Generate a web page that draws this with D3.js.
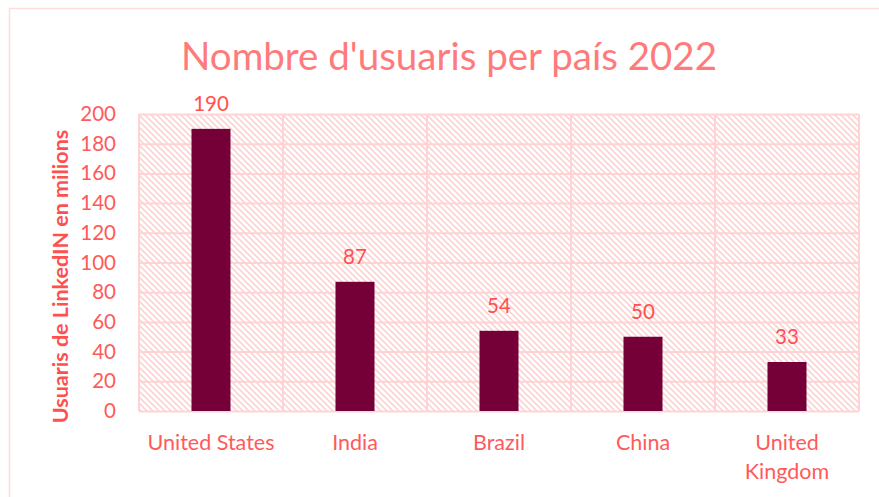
<!DOCTYPE html>
<html>
<head>
<meta charset="utf-8">
<script src="https://cdn.jsdelivr.net/npm/d3@7"></script>
<style>
  body { margin: 0; background: #fff; }
  text { font-family: Lato, "Open Sans", sans-serif; }
</style>
</head>
<body>
<div id="chart"></div>
<script>
  var countries = ['United States', 'India', 'Brazil', 'China', 'United Kingdom'];
  var users = [190, 87, 54, 50, 33];
  var yTicks = [0, 20, 40, 60, 80, 100, 120, 140, 160, 180, 200];

  var width = 879, height = 497;
  var plot = { left: 139, right: 859, top: 114, bottom: 411 };

  var svg = d3.select('#chart').append('svg')
    .attr('width', width)
    .attr('height', height);

  // hatched background
  var pat = svg.append('defs').append('pattern')
    .attr('id', 'hatch')
    .attr('patternUnits', 'userSpaceOnUse')
    .attr('width', 6).attr('height', 6);
  pat.append('rect').attr('width', 6).attr('height', 6).attr('fill', '#fff');
  pat.append('path')
    .attr('d', 'M-1,-1 L7,7 M-1,5 L1,7 M5,-1 L7,1')
    .attr('stroke', '#ffd2d2')
    .attr('stroke-width', 1.6);

  // chart frame
  svg.append('rect')
    .attr('x', 9.5).attr('y', 8.5)
    .attr('width', 900).attr('height', 520)
    .attr('fill', 'none')
    .attr('stroke', '#ffdcdc')
    .attr('stroke-width', 1.5);

  var x = d3.scaleBand().domain(countries).range([plot.left, plot.right]);
  var y = d3.scaleLinear().domain([0, 200]).range([plot.bottom, plot.top]);

  svg.append('rect')
    .attr('x', plot.left).attr('y', plot.top)
    .attr('width', plot.right - plot.left)
    .attr('height', plot.bottom - plot.top)
    .attr('fill', 'url(#hatch)');

  // grid
  svg.append('g')
    .attr('transform', 'translate(' + plot.left + ',0)')
    .call(d3.axisLeft(y).tickValues(yTicks).tickSize(-(plot.right - plot.left)).tickFormat(''))
    .call(function(g) { g.select('.domain').remove(); })
    .selectAll('line')
    .attr('stroke', '#ffd3d3')
    .attr('stroke-width', 2);

  var bounds = countries.map(function(c) { return x(c); }).concat([plot.right]);
  svg.append('g').selectAll('line.vgrid').data(bounds).enter()
    .append('line')
    .attr('class', 'vgrid')
    .attr('x1', function(d) { return d; })
    .attr('x2', function(d) { return d; })
    .attr('y1', plot.top).attr('y2', plot.bottom)
    .attr('stroke', '#ffd3d3')
    .attr('stroke-width', 2);

  // y tick labels
  var yAxis = svg.append('g')
    .attr('transform', 'translate(' + (plot.left - 23) + ',0)')
    .call(d3.axisLeft(y).tickValues(yTicks).tickSize(0).tickPadding(0));
  yAxis.select('.domain').remove();
  yAxis.selectAll('text')
    .attr('fill', '#ff5a5a')
    .style('font-size', '20.5px')
    .style('font-family', 'Lato, sans-serif');

  // bars
  var barW = 39;
  svg.selectAll('rect.bar').data(users).enter()
    .append('rect')
    .attr('class', 'bar')
    .attr('x', function(d, i) { return x(countries[i]) + x.bandwidth() / 2 - barW / 2; })
    .attr('y', function(d) { return y(d); })
    .attr('width', barW)
    .attr('height', function(d) { return y(0) - y(d); })
    .attr('fill', '#750038');

  // value labels
  svg.selectAll('text.val').data(users).enter()
    .append('text')
    .attr('class', 'val')
    .attr('x', function(d, i) { return x(countries[i]) + x.bandwidth() / 2; })
    .attr('y', function(d) { return y(d) - 18; })
    .attr('text-anchor', 'middle')
    .attr('fill', '#ff4f4f')
    .style('font-size', '20.5px')
    .text(function(d) { return d; });

  // category labels
  var cats = svg.selectAll('text.cat').data(countries).enter()
    .append('text')
    .attr('class', 'cat')
    .attr('x', function(d) { return x(d) + x.bandwidth() / 2; })
    .attr('y', 450)
    .attr('text-anchor', 'middle')
    .attr('fill', '#ff5a5a')
    .style('font-size', '21.5px');
  cats.each(function(d) {
    var words = d === 'United Kingdom' ? ['United', 'Kingdom'] : [d];
    var t = d3.select(this);
    words.forEach(function(w, i) {
      t.append('tspan')
        .attr('x', t.attr('x'))
        .attr('dy', i === 0 ? 0 : 29)
        .text(w);
    });
  });

  // axis title
  svg.append('text')
    .attr('transform', 'translate(68,' + ((plot.top + plot.bottom) / 2 + 14) + ') rotate(-90)')
    .attr('text-anchor', 'middle')
    .attr('fill', '#ff5050')
    .style('font-size', '21.5px')
    .style('font-weight', 'bold')
    .text('Usuaris de LinkedIN en milions');

  // title
  svg.append('text')
    .attr('x', 449)
    .attr('y', 70)
    .attr('text-anchor', 'middle')
    .attr('fill', '#ff7b7b')
    .style('font-size', '38.5px')
    .text("Nombre d'usuaris per país 2022");
</script>
</body>
</html>
